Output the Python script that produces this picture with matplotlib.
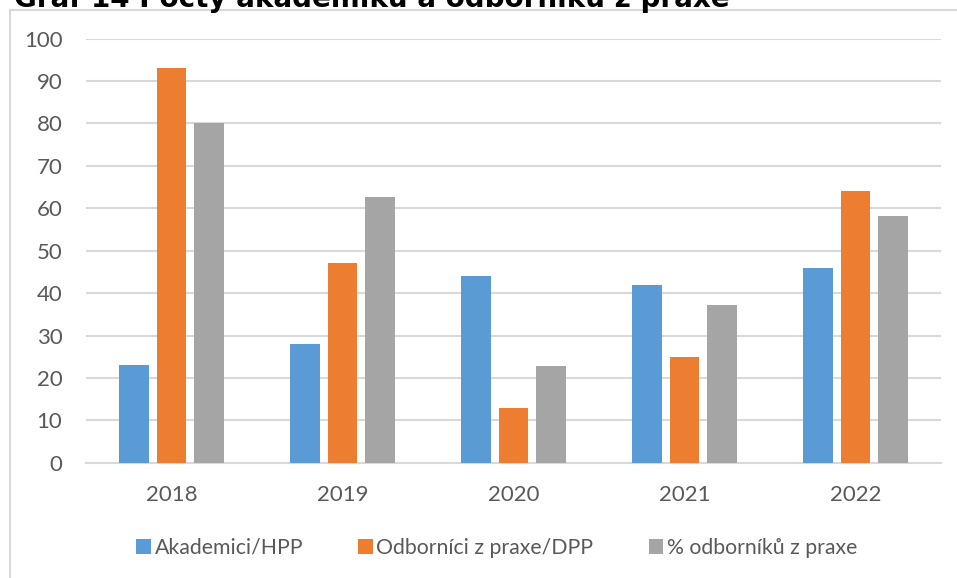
import numpy as np
import matplotlib
matplotlib.use("Agg")
import matplotlib.pyplot as plt
from matplotlib.patches import Rectangle

# Data
years = ['2018', '2019', '2020', '2021', '2022']
akademici = [23, 28, 44, 42, 46]
odbornici = [93, 47, 13, 25, 64]
procento = [80.2, 62.7, 22.8, 37.3, 58.2]
series_names = ['Akademici/HPP', 'Odborníci z praxe/DPP', '% odborníků z praxe']
colors = ['#5B9BD5', '#ED7D31', '#A5A5A5']
title = 'Graf 14 Počty akademiků a odborníků z praxe'

plt.rcParams['font.family'] = ['Lato', 'DejaVu Sans']
text_col = '#595959'
grid_col = '#D9D9D9'

fig = plt.figure(figsize=(9.57, 5.78), dpi=100)

# Chart frame (extends beyond right/bottom edge as in reference)
fig.patches.append(Rectangle((10 / 957, -0.1), 1.2, 1 - 10 / 578 + 0.1,
                             transform=fig.transFigure, fill=False,
                             edgecolor=grid_col, linewidth=1.5))

# Title, clipped by the top edge like in the reference
fig.text(14 / 957, 1 - 7 / 578, title, fontsize=20, fontweight='bold',
         family='DejaVu Sans', color='black', ha='left', va='baseline')

ax = fig.add_axes([86 / 957, 1 - 462.7 / 578, (941 - 86) / 957, (462.7 - 38.7) / 578])

x = np.arange(len(years))
w = 0.173
step = 0.22
for i, (vals, name) in enumerate(zip([akademici, odbornici, procento], series_names)):
    ax.bar(x + (i - 1) * step, vals, width=w, color=colors[i], label=name, zorder=3)

ax.set_xlim(-0.5, len(years) - 0.5)
ax.set_ylim(0, 100)
ax.set_yticks(np.arange(0, 101, 10))
ax.set_xticks(x)
ax.set_xticklabels(years)

ax.grid(axis='y', color=grid_col, linewidth=1.5, zorder=0)
for s in ['top', 'right', 'left']:
    ax.spines[s].set_visible(False)
ax.spines['bottom'].set_color(grid_col)
ax.spines['bottom'].set_linewidth(1.5)
ax.tick_params(axis='both', length=0, labelsize=16, colors=text_col)
ax.tick_params(axis='y', pad=17)
ax.tick_params(axis='x', pad=16)

handles, labels = ax.get_legend_handles_labels()
fig.legend(handles, labels, loc='center', bbox_to_anchor=(0.519, 1 - 548 / 578),
           ncol=3, frameon=False, fontsize=15.3, handlelength=0.7, handleheight=0.7,
           handletextpad=0.15, columnspacing=2.6, labelcolor=text_col)

fig.savefig('out.png', dpi=100)
